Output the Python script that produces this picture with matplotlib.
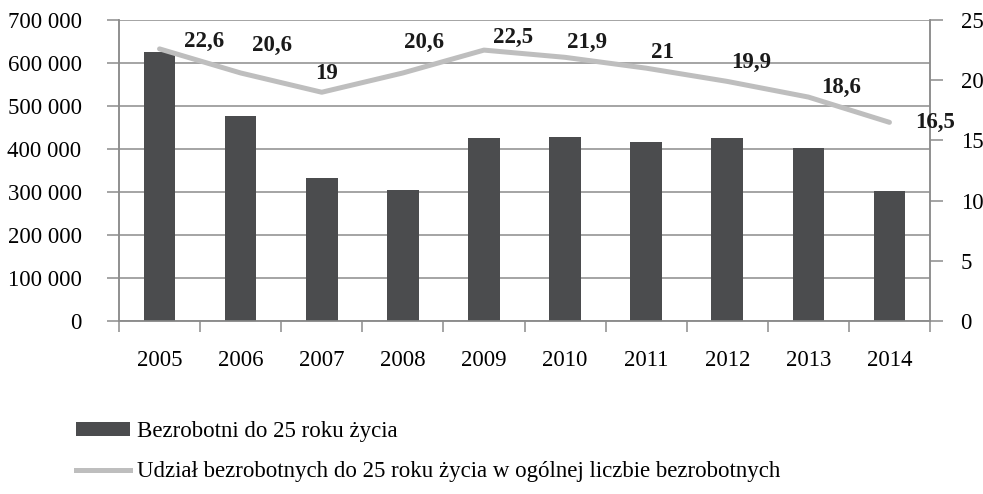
import matplotlib
matplotlib.use('Agg')
import matplotlib.pyplot as plt
from matplotlib.ticker import FuncFormatter, FixedLocator
from matplotlib.patches import Patch
from matplotlib.lines import Line2D

# data
years = ['2005', '2006', '2007', '2008', '2009', '2010', '2011', '2012', '2013', '2014']
unemployed_u25 = [626000, 477000, 333000, 305000, 426000, 429000, 417000, 425000, 403000, 302000]
share_u25 = [22.6, 20.6, 19.0, 20.6, 22.5, 21.9, 21.0, 19.9, 18.6, 16.5]

bar_label = 'Bezrobotni do 25 roku życia'
line_label = 'Udział bezrobotnych do 25 roku życia w ogólnej liczbie bezrobotnych'

# label offsets (pixels) for the data labels, placed by hand in the original
label_dx = [45, 31, 5, 21, 29, 22, 16, 24, 33, 46]
label_dy = [7, 28, 19, 31, 13, 15, 16, 19, 10, 0]

plt.rcParams['font.family'] = ['Liberation Serif', 'DejaVu Serif']
plt.rcParams['font.size'] = 16.5

BAR = '#4b4c4e'
LINE = '#bebebe'
GRID = '#8c8c8c'

fig = plt.figure(figsize=(9.83, 4.94), dpi=100)
ax = fig.add_axes([119 / 983, 1 - 321 / 494, 811 / 983, 301 / 494])
ax2 = ax.twinx()

x = list(range(len(years)))
ax.bar(x, unemployed_u25, width=0.39, color=BAR, zorder=3)
ax.set_xlim(-0.5, len(years) - 0.5)
ax.set_ylim(0, 700000)
ax.set_yticks(range(0, 700001, 100000))
ax.yaxis.set_major_formatter(FuncFormatter(lambda v, p: f'{int(v):,}'.replace(',', ' ')))
ax.grid(axis='y', color=GRID, linewidth=1.1, zorder=0)
ax.set_axisbelow(True)

ax.set_xticks(x)
ax.set_xticklabels(years)
ax.xaxis.set_minor_locator(FixedLocator([i - 0.5 for i in range(len(years) + 1)]))
ax.tick_params(axis='x', which='major', length=0, pad=21)
ax.tick_params(axis='x', which='minor', length=8, width=1.1, color=GRID, direction='out')
ax.tick_params(axis='y', length=9, width=1.1, color=GRID, direction='out', pad=18)

ax2.plot(x, share_u25, color=LINE, linewidth=3.6, solid_capstyle='round', zorder=4)
ax2.set_ylim(0, 25)
ax2.set_yticks(range(0, 26, 5))
ax2.tick_params(axis='y', length=9, width=1.1, color=GRID, direction='out', pad=13)

for s in ['top', 'right', 'left', 'bottom']:
    ax.spines[s].set_color(GRID)
    ax.spines[s].set_linewidth(1.1)
    ax2.spines[s].set_color(GRID)
    ax2.spines[s].set_linewidth(1.1)
ax.spines['top'].set_visible(False)
ax2.spines['top'].set_visible(False)

for i, v in enumerate(share_u25):
    ax2.annotate(f'{v:g}'.replace('.', ','), (x[i], v),
                 xytext=(label_dx[i], label_dy[i]), textcoords='offset pixels',
                 ha='center', va='center', fontweight='bold', fontsize=16.5,
                 color='#1a1a1a', zorder=6, annotation_clip=False)

handles = [Patch(facecolor=BAR, edgecolor='none'),
           Line2D([], [], color=LINE, linewidth=3.6)]
fig.legend(handles, [bar_label, line_label], loc='upper left',
           bbox_to_anchor=(76 / 983, 1 - 421 / 494), frameon=False,
           handlelength=2.35, handleheight=0.55, handletextpad=0.3,
           labelspacing=0.85, borderpad=0, borderaxespad=0)

fig.savefig('out.png', dpi=100)
